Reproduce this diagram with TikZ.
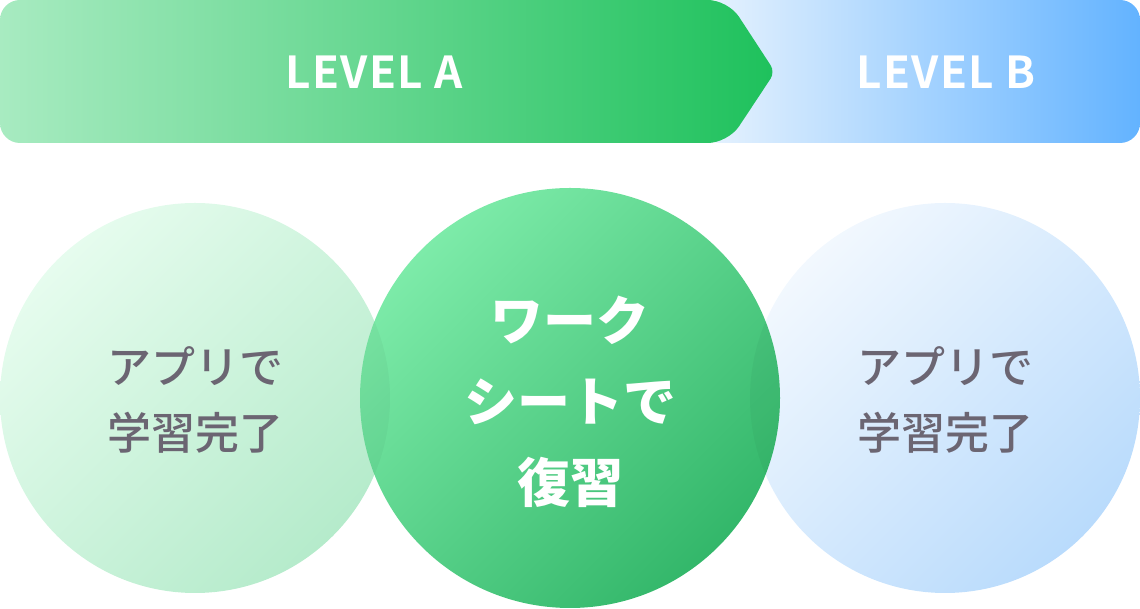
\documentclass[tikz,border=0pt]{standalone}
\usepackage{fontspec}
\usepackage{tikz}
\usetikzlibrary{positioning}
\newfontfamily\jpfont{Noto Sans CJK JP}
\newfontfamily\jpmed{Noto Sans CJK JP}[UprightFont=* Medium]
\newfontfamily\levfont{Noto Sans CJK JP}[UprightFont=* Bold, LetterSpace=3]
\definecolor{barA1}{HTML}{A8EBC1}
\definecolor{barA2}{HTML}{1EC15C}
\definecolor{barB1}{HTML}{E8F3FE}
\definecolor{barB2}{HTML}{63B3FF}
\definecolor{sideA1}{HTML}{E6FCEE}
\definecolor{sideA2}{HTML}{B5EBCB}
\definecolor{mid1}{HTML}{7DEBA9}
\definecolor{mid2}{HTML}{33B76A}
\definecolor{sideB1}{HTML}{F2F8FE}
\definecolor{sideB2}{HTML}{B9DBFC}
\definecolor{greytext}{HTML}{6B6572}
\tikzset{
  leveltext/.style={text=white, font=\levfont\fontsize{44}{44}\selectfont},
  sidetext/.style={text=greytext, align=center, font=\jpmed\fontsize{44}{66}\selectfont},
  midtext/.style={text=white, align=center, font=\jpfont\bfseries\fontsize{53}{81}\selectfont}
}
\begin{document}
\begin{tikzpicture}[x=1pt,y=1pt]
    \useasboundingbox (0,0) rectangle (1140,609);
    % top bar
    \shade[left color=barB1, right color=barB2, rounded corners=20pt]
        (700,466) rectangle (1140,609);
    \shade[left color=barA1, right color=barA2]
        [rounded corners=20pt] (0,537) |- (728,609)
        [rounded corners=8pt] -- (775,537)
        [rounded corners=20pt] -- (728,466) -| cycle;
    \node[leveltext] (levA) at (374,537) {LEVEL A};
    \node[leveltext] (levB) at (946,537) {LEVEL B};
    % circles
    \shade[top color=sideA1, bottom color=sideA2, shading angle=45]
        (195,211) circle[radius=195];
    \shade[top color=sideB1, bottom color=sideB2, shading angle=45]
        (945,211) circle[radius=195];
    \shade[top color=mid1, bottom color=mid2, shading angle=45]
        (570,211) circle[radius=210];
    \begin{scope}
        \clip (195,211) circle[radius=195];
        \fill[black, opacity=.03] (570,211) circle[radius=210];
    \end{scope}
    \begin{scope}
        \clip (945,211) circle[radius=195];
        \fill[black, opacity=.03] (570,211) circle[radius=210];
    \end{scope}
    \node[sidetext] (appA) at (195,209) {アプリで\\学習完了};
    \node[midtext] (work) at (570,207) {ワーク\\シートで\\復習};
    \node[sidetext] (appB) at (945,209) {アプリで\\学習完了};
\end{tikzpicture}
\end{document}
